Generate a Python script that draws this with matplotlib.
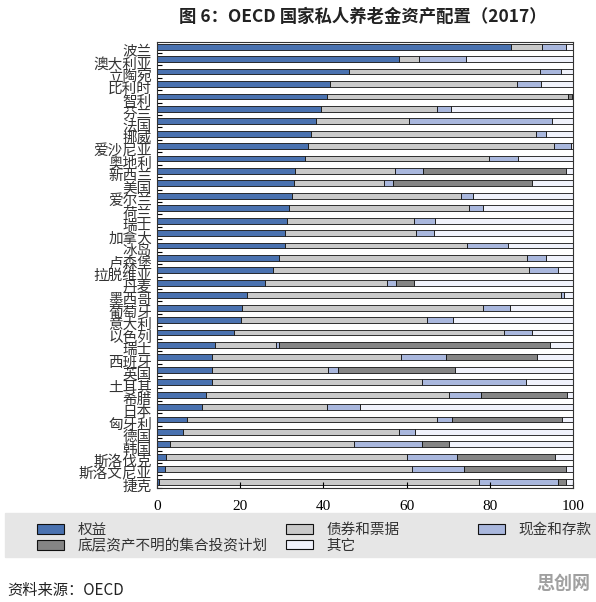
import numpy as np
import matplotlib
matplotlib.use('Agg')
import matplotlib.pyplot as plt
from matplotlib.patches import Patch, Rectangle

plt.rcParams['font.family'] = ['Noto Sans CJK SC', 'DejaVu Sans']

# datos (%), orden de arriba hacia abajo
paises = ['波兰', '澳大利亚', '立陶宛', '比利时', '智利', '芬兰', '法国', '挪威',
          '爱沙尼亚', '奥地利', '新西兰', '美国', '爱尔兰', '荷兰', '瑞士', '加拿大',
          '冰岛', '卢森堡', '拉脱维亚', '丹麦', '墨西哥', '葡萄牙', '意大利', '以色列',
          '瑞士', '西班牙', '英国', '土耳其', '希腊', '日本', '匈牙利', '德国',
          '韩国', '斯洛伐克', '斯洛文尼亚', '捷克']

权益 = [85.0, 58.2, 46.1, 41.6, 40.8, 39.5, 38.3, 36.9, 36.2, 35.5, 33.2, 33.0,
       32.4, 31.8, 31.2, 30.7, 30.7, 29.3, 27.8, 25.9, 21.6, 20.5, 20.2, 18.4,
       14.0, 13.3, 13.3, 13.3, 11.7, 10.7, 7.2, 6.2, 3.2, 2.2, 2.0, 0.6]
债券 = [7.6, 4.8, 46.0, 45.0, 58.1, 27.8, 22.3, 54.3, 59.3, 44.4, 23.9, 21.5,
       40.6, 43.2, 30.6, 31.5, 43.8, 59.7, 61.6, 29.5, 75.4, 57.9, 44.8, 64.9,
       14.6, 45.4, 27.7, 50.3, 58.4, 30.1, 60.1, 52.0, 44.1, 57.9, 59.4, 76.8]
现金 = [5.6, 11.2, 5.1, 5.7, 0.0, 3.4, 34.4, 2.3, 4.1, 6.9, 6.9, 2.3,
       3.0, 3.4, 5.0, 4.4, 9.9, 4.4, 7.0, 2.0, 0.8, 6.5, 6.2, 6.9,
       0.8, 10.8, 2.4, 25.0, 7.8, 8.1, 3.6, 3.7, 16.5, 12.1, 12.4, 19.1]
集合投资 = [0.0, 0.0, 0.0, 0.0, 0.8, 0.0, 0.0, 0.0, 0.0, 0.0, 34.3, 33.4,
         0.0, 0.0, 0.0, 0.0, 0.0, 0.0, 0.0, 4.3, 0.0, 0.0, 0.0, 0.0,
         65.1, 21.9, 28.3, 0.0, 20.7, 0.0, 26.5, 0.0, 6.4, 23.4, 24.5, 1.9]
其它 = [1.8, 25.8, 2.8, 7.7, 0.3, 29.3, 5.0, 6.5, 0.4, 13.2, 1.7, 9.8,
       24.0, 21.6, 33.2, 33.4, 15.6, 6.6, 3.6, 38.3, 2.2, 15.1, 28.8, 9.8,
       5.5, 8.6, 28.3, 11.4, 1.4, 51.1, 2.6, 38.1, 29.8, 4.4, 1.7, 1.6]

series = [('权益', 权益, '#4a72b0'),
          ('债券和票据', 债券, '#c9c9c9'),
          ('现金和存款', 现金, '#a9b7dd'),
          ('底层资产不明的集合投资计划', 集合投资, '#858585'),
          ('其它', 其它, '#f0f2fb')]
colores = {nombre: c for nombre, _, c in series}

fig = plt.figure(figsize=(5.96, 6.02), dpi=100)
ax = fig.add_axes([157 / 596, 1 - 488 / 602, 416 / 596, 446 / 602])

pos = np.arange(len(paises))
izquierda = np.zeros(len(paises))
for nombre, valores, color in series:
    ax.barh(pos, valores, left=izquierda, height=0.47, color=color,
            edgecolor='#111111', linewidth=0.6)
    izquierda = izquierda + np.array(valores)

ax.set_xlim(0, 100)
ax.set_ylim(len(paises) - 0.49, -0.38)
ax.set_xticks(np.arange(0, 101, 20))
ax.tick_params(axis='x', direction='in', length=4, width=0.8, pad=9, labelsize=11)
for t in ax.get_xticklabels():
    t.set_family('Liberation Serif')

# marcas entre barras y etiquetas de pais
ax.set_yticks(pos + 0.5)
ax.set_yticklabels([''] * len(paises))
ax.tick_params(axis='y', which='major', direction='in', length=3.5, width=0.8)
ax.set_yticks(pos + 0.3, minor=True)
ax.set_yticklabels(paises, minor=True, fontsize=10.5, color='#333333')
ax.tick_params(axis='y', which='minor', length=0, pad=3.6)

for s in ax.spines.values():
    s.set_color('#333333')
    s.set_linewidth(0.8)

fig.text(363 / 596, 1 - 17 / 602, '图 6：OECD 国家私人养老金资产配置（2017）',
         ha='center', va='center', fontsize=12.5, fontweight='bold', color='#222222')

# leyenda en tres columnas sobre fondo gris
fig.patches.append(Rectangle((5 / 596, 1 - 557 / 602), 591 / 596, 44 / 602,
                             transform=fig.transFigure, color='#e6e6e6', zorder=0))
columnas = [(37, ['权益', '底层资产不明的集合投资计划']),
            (286, ['债券和票据', '其它']),
            (478, ['现金和存款'])]
for x, nombres in columnas:
    handles = [Patch(facecolor=colores[n], edgecolor='#111111', linewidth=0.8) for n in nombres]
    fig.legend(handles, nombres, loc='upper left', bbox_to_anchor=(x / 596, 1 - 523 / 602),
               frameon=False, fontsize=10.5, handlelength=1.85, handleheight=0.62,
               handletextpad=0.95, labelspacing=0.12, borderpad=0, borderaxespad=0,
               labelcolor='#333333')

fig.text(7 / 596, 1 - 590 / 602, '资料来源：OECD', ha='left', va='center',
         fontsize=11, color='#222222')
fig.text(590 / 596, 1 - 583 / 602, '思创网', ha='right', va='center',
         fontsize=13, fontweight='bold', color='#a0a0a0')

fig.savefig('out.png', dpi=100)
